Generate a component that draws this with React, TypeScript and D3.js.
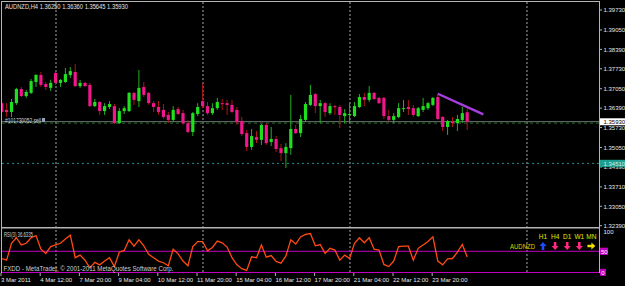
import React from "react";
import * as d3 from "d3";

// ---- data ----
const opens = [1.3656,1.3633,1.3626,1.3656,1.3704,1.3680,1.3691,1.3728,1.3752,1.3721,1.3708,1.3759,1.3725,1.3728,1.3752,1.3762,1.3714,1.3725,1.3718,1.3646,1.3660,1.3629,1.3643,1.3646,1.3588,1.3629,1.3629,1.3691,1.3663,1.3711,1.3691,1.3656,1.3643,1.3633,1.3616,1.3599,1.3636,1.3622,1.3588,1.3558,1.3619,1.3663,1.3646,1.3622,1.3639,1.3656,1.3656,1.3650,1.3633,1.3595,1.3554,1.3507,1.3541,1.3531,1.3582,1.3524,1.3534,1.3503,1.3486,1.3503,1.3568,1.3554,1.3599,1.3650,1.3687,1.3646,1.3656,1.3622,1.3646,1.3643,1.3612,1.3616,1.3612,1.3643,1.3677,1.3667,1.3691,1.3674,1.3674,1.3612,1.3599,1.3609,1.3636,1.3643,1.3639,1.3612,1.3633,1.3639,1.3650,1.3677,1.3609,1.3575,1.3592,1.3588,1.3599,1.3625];
const highs = [1.3660,1.3656,1.3670,1.3708,1.3711,1.3701,1.3738,1.3755,1.3762,1.3728,1.3735,1.3762,1.3738,1.3776,1.3779,1.3789,1.3735,1.3728,1.3725,1.3670,1.3663,1.3656,1.3663,1.3653,1.3639,1.3646,1.3694,1.3694,1.3769,1.3728,1.3694,1.3663,1.3663,1.3653,1.3626,1.3646,1.3643,1.3633,1.3599,1.3626,1.3656,1.3725,1.3660,1.3656,1.3674,1.3670,1.3667,1.3667,1.3643,1.3609,1.3565,1.3568,1.3561,1.3585,1.3588,1.3575,1.3544,1.3517,1.3520,1.3684,1.3582,1.3616,1.3660,1.3718,1.3691,1.3667,1.3660,1.3656,1.3650,1.3650,1.3636,1.3656,1.3660,1.3687,1.3691,1.3714,1.3694,1.3677,1.3677,1.3633,1.3622,1.3656,1.3667,1.3667,1.3650,1.3643,1.3674,1.3660,1.3677,1.3687,1.3612,1.3599,1.3609,1.3616,1.3643,1.3636];
const lows = [1.3622,1.3609,1.3609,1.3650,1.3677,1.3674,1.3687,1.3711,1.3711,1.3701,1.3697,1.3718,1.3711,1.3725,1.3742,1.3711,1.3708,1.3711,1.3643,1.3643,1.3616,1.3616,1.3636,1.3585,1.3585,1.3619,1.3626,1.3650,1.3643,1.3677,1.3650,1.3626,1.3616,1.3602,1.3588,1.3592,1.3616,1.3582,1.3554,1.3544,1.3612,1.3639,1.3616,1.3616,1.3633,1.3633,1.3616,1.3622,1.3582,1.3544,1.3493,1.3497,1.3520,1.3514,1.3514,1.3510,1.3490,1.3459,1.3435,1.3480,1.3551,1.3541,1.3592,1.3646,1.3622,1.3588,1.3609,1.3616,1.3616,1.3571,1.3588,1.3588,1.3609,1.3639,1.3646,1.3660,1.3667,1.3653,1.3602,1.3595,1.3588,1.3605,1.3626,1.3616,1.3609,1.3609,1.3626,1.3633,1.3646,1.3599,1.3561,1.3548,1.3575,1.3561,1.3588,1.35645];
const closes = [1.3626,1.3626,1.3660,1.3704,1.3680,1.3694,1.3731,1.3752,1.3718,1.3711,1.3725,1.3725,1.3735,1.3755,1.3765,1.3714,1.3725,1.3714,1.3646,1.3660,1.3629,1.3646,1.3653,1.3588,1.3629,1.3639,1.3691,1.3667,1.3708,1.3684,1.3656,1.3643,1.3626,1.3609,1.3599,1.3633,1.3619,1.3588,1.3558,1.3622,1.3643,1.3646,1.3622,1.3639,1.3660,1.3653,1.3650,1.3626,1.3592,1.3551,1.3507,1.3544,1.3531,1.3582,1.3520,1.3534,1.3500,1.3486,1.3507,1.3568,1.3554,1.3602,1.3653,1.3684,1.3646,1.3656,1.3626,1.3646,1.3643,1.3616,1.3622,1.3619,1.3646,1.3677,1.3667,1.3691,1.3670,1.3656,1.3612,1.3599,1.3612,1.3639,1.3639,1.3636,1.3616,1.3639,1.3646,1.3656,1.3674,1.3602,1.3575,1.3595,1.3588,1.3602,1.3622,1.3593];
const rsiValues = [33,29,69,82,65,69,82,87,55,45,61,65,69,79,88,35,41,29,11,24,18,27,35,14,48,52,77,62,77,63,43,35,27,23,16,55,44,27,16,61,73,73,51,59,74,70,60,35,18,9,5,37,35,65,36,40,26,22,39,77,67,84,90,92,63,66,45,57,53,29,41,33,69,82,70,82,55,53,19,14,27,61,62,62,29,57,65,73,84,27,18,32,33,48,66,36.6];
const timeLabels = ["3 Mar 2011","4 Mar 12:00","7 Mar 20:00","9 Mar 04:00","10 Mar 12:00","11 Mar 20:00","15 Mar 04:00","16 Mar 12:00","17 Mar 20:00","21 Mar 04:00","22 Mar 12:00","23 Mar 20:00"];
const timeLabelBars = [0,8,16,24,32,40,48,56,64,72,80,88];
const priceTicks = [1.3973,1.3905,1.3839,1.3773,1.3705,1.3639,1.3573,1.3505,1.3439,1.3371,1.3305,1.3239];
const gridBars = [11.08,41.08,71.08,107.2];
const trendBars = [89,98.3];
const trendPrices = [1.3688,1.3618];
const bidPrice = 1.3593;
const orderPrice = 1.3588;
const levelPrice = 1.3451;
const signalFrames = ["H1","H4","D1","W1","MN"];
const signalDirs = ["up","down","down","down","right"];

const FONT = "'Liberation Sans', Arial, sans-serif";

export default function App() {
  const x = d3.scaleLinear().domain([0, 95]).range([1.7, 467.2]);
  const y = d3.scaleLinear().domain([1.3239, 1.3973]).range([225.7, 10]);
  const ry = d3.scaleLinear().domain([0, 100]).range([272.5, 230.1]);
  const rsiLine = d3.line<number>().x((_, i) => x(i)).y((v) => ry(v));

  const candles = opens.map((o, i) => ({ o, h: highs[i], l: lows[i], c: closes[i] }));

  const arrowPath = (dir: string, cx: number, cy: number) => {
    if (dir === "up")
      return `M${cx},${cy - 4} L${cx + 3.5},${cy} L${cx + 1.3},${cy} L${cx + 1.3},${cy + 4} L${cx - 1.3},${cy + 4} L${cx - 1.3},${cy} L${cx - 3.5},${cy} Z`;
    if (dir === "down")
      return `M${cx},${cy + 4} L${cx + 3.5},${cy} L${cx + 1.3},${cy} L${cx + 1.3},${cy - 4} L${cx - 1.3},${cy - 4} L${cx - 1.3},${cy} L${cx - 3.5},${cy} Z`;
    return `M${cx + 4},${cy} L${cx},${cy - 3.5} L${cx},${cy - 1.3} L${cx - 4},${cy - 1.3} L${cx - 4},${cy + 1.3} L${cx},${cy + 1.3} L${cx},${cy + 3.5} Z`;
  };
  const dirColor = (d: string) => (d === "up" ? "#1e4bff" : d === "down" ? "#ff2a7f" : "#f0e000");

  return (
    <svg width={625} height={286} style={{ position: "absolute", left: 0, top: 0, background: "#000" }} fontFamily={FONT}>
      <rect x={0} y={0} width={625} height={286} fill="#000" />
      <defs>
        <clipPath id="mainClip"><rect x={2} y={2} width={597} height={225} /></clipPath>
        <clipPath id="rsiClip"><rect x={2} y={229} width={597} height={44} /></clipPath>
      </defs>

      {/* vertical grid */}
      {gridBars.map((b, i) => (
        <line key={i} x1={x(b)} x2={x(b)} y1={2} y2={273} stroke="#a8a8a8" strokeDasharray="2,2" strokeWidth={1} />
      ))}

      {/* horizontal lines */}
      <line x1={2} x2={599} y1={y(levelPrice)} y2={y(levelPrice)} stroke="#2a8c8c" strokeDasharray="2,3" />
      <line x1={2} x2={599} y1={y(bidPrice)} y2={y(bidPrice)} stroke="#6c7878" strokeWidth={1} />
      <line x1={2} x2={599} y1={y(orderPrice)} y2={y(orderPrice)} stroke="#2e6a2e" strokeDasharray="3,3" strokeWidth={1} />

      {/* candles */}
      <g clipPath="url(#mainClip)">
        {candles.map((d, i) => {
          const bull = d.c >= d.o;
          const cx = x(i);
          const top = y(Math.max(d.o, d.c));
          const bot = y(Math.min(d.o, d.c));
          return (
            <g key={i}>
              <line x1={cx} x2={cx} y1={y(d.h)} y2={y(d.l)} stroke={bull ? "#22b022" : "#b01414"} strokeWidth={1} />
              <rect x={cx - 1.6} y={top} width={3.2} height={Math.max(1, bot - top)} fill={bull ? "#1ee01e" : "#f0168c"} />
            </g>
          );
        })}
        <line x1={x(trendBars[0])} y1={y(trendPrices[0])} x2={x(trendBars[1])} y2={y(trendPrices[1])} stroke="#a83ee0" strokeWidth={2.4} />
      </g>

      {/* order label */}
      <text x={5} y={123} fontSize={6.5} fill="#d0d0d0" textLength={36} lengthAdjust="spacingAndGlyphs">#101730052 sell</text>
      <rect x={42} y={118} width={3} height={4} fill="#9aa0c0" />

      {/* title */}
      <text x={5} y={9} fontSize={7} fill="#e4e4e4" textLength={123} lengthAdjust="spacingAndGlyphs">AUDNZD,H4  1.36250 1.36360 1.35645 1.35930</text>

      {/* RSI */}
      <line x1={2} x2={599} y1={ry(50)} y2={ry(50)} stroke="#c000c0" strokeWidth={1} />
      <line x1={2} x2={599} y1={ry(0)} y2={ry(0)} stroke="#c000c0" strokeWidth={1.2} />
      <g clipPath="url(#rsiClip)">
        <path d={rsiLine(rsiValues) || ""} fill="none" stroke="#ff4a12" strokeWidth={1.3} />
      </g>
      <text x={4} y={237} fontSize={6.5} fill="#d0d0d0" textLength={29} lengthAdjust="spacingAndGlyphs">RSI(3) 36.6335</text>
      <text x={3.5} y={271} fontSize={6.5} fill="#d0d0d0" textLength={170} lengthAdjust="spacingAndGlyphs">FXDD - MetaTrader, © 2001-2011 MetaQuotes Software Corp.</text>

      {/* signal panel */}
      {signalFrames.map((f, i) => (
        <text key={f} x={543 + i * 12.1} y={238.5} fontSize={6.5} fill="#e6e600" textAnchor="middle">{f}</text>
      ))}
      <text x={510} y={248.5} fontSize={6.5} fill="#d8d800" textLength={25} lengthAdjust="spacingAndGlyphs">AUDNZD</text>
      {signalDirs.map((d, i) => (
        <path key={i} d={arrowPath(d, 543 + i * 12.1, 246)} fill={dirColor(d)} />
      ))}

      {/* borders */}
      <line x1={1} x2={599.5} y1={1.5} y2={1.5} stroke="#b4b4b4" strokeWidth={1} />
      <line x1={1.5} x2={1.5} y1={1} y2={273} stroke="#b4b4b4" strokeWidth={1} />
      <line x1={599.5} x2={599.5} y1={1} y2={273} stroke="#b4b4b4" strokeWidth={1} />
      <line x1={1} x2={599.5} y1={227.8} y2={227.8} stroke="#b4b4b4" strokeWidth={1.6} />

      {/* price axis */}
      {priceTicks.map((p) => (
        <g key={p}>
          <line x1={599.5} x2={602} y1={y(p)} y2={y(p)} stroke="#b4b4b4" />
          <text x={603.5} y={y(p) + 2.2} fontSize={6} fill="#e6e6e6">{p.toFixed(5)}</text>
        </g>
      ))}
      <rect x={600} y={y(bidPrice) - 3.4} width={25} height={7} fill="#ffffff" />
      <text x={603.5} y={y(bidPrice) + 2.2} fontSize={6} fill="#000">{bidPrice.toFixed(5)}</text>
      <rect x={600} y={y(levelPrice) - 3.6} width={25} height={7.4} fill="#1e9e8e" />
      <text x={603.5} y={y(levelPrice) + 2.2} fontSize={6} fill="#cfeeee">{levelPrice.toFixed(5)}</text>

      {/* RSI axis */}
      <text x={603.5} y={ry(100) + 4} fontSize={6} fill="#e6e6e6">100</text>
      <rect x={600} y={ry(50) - 3.6} width={8} height={7.2} fill="#c000c0" />
      <text x={601} y={ry(50) + 2.2} fontSize={6} fill="#ffffff">50</text>
      <rect x={600} y={ry(0) - 3.6} width={6} height={7} fill="#c000c0" />
      <text x={601.3} y={ry(0) + 2} fontSize={6} fill="#ffffff">0</text>

      {/* time axis */}
      {timeLabelBars.map((b, i) => (
        <g key={b}>
          <line x1={x(b) - 0.7} x2={x(b) - 0.7} y1={273} y2={276} stroke="#b4b4b4" />
          <text x={x(b) - 0.7} y={282} fontSize={6} fill="#e6e6e6">{timeLabels[i]}</text>
        </g>
      ))}
    </svg>
  );
}
